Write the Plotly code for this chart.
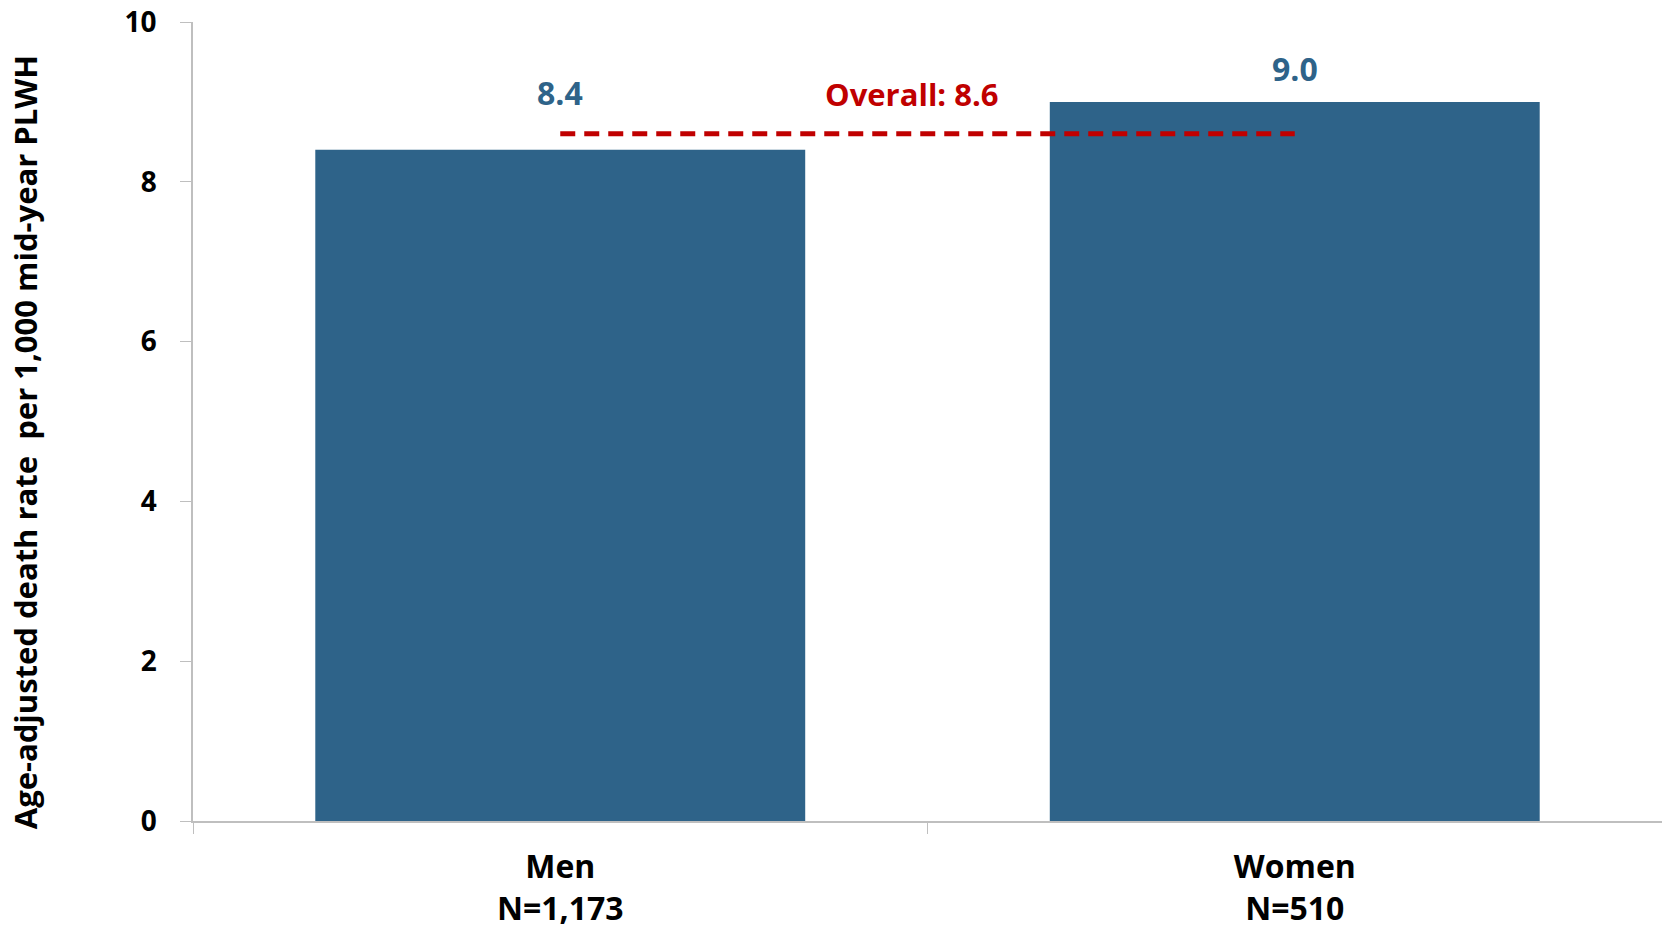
import plotly.graph_objects as go

categories = ["Men", "Women"]
counts = ["N=1,173", "N=510"]
rates = [8.4, 9.0]
overall = 8.6

bar_color = "#2E6389"
red = "#C00000"
font_family = "Open Sans"

tick_text = [f"{c}<br>{n}" for c, n in zip(categories, counts)]

fig = go.Figure()
fig.add_trace(go.Bar(
    x=categories, y=rates, marker_color=bar_color, marker_line_width=0,
    showlegend=False, hoverinfo="skip"))
fig.add_trace(go.Scatter(
    x=categories, y=[overall, overall], mode="lines",
    line=dict(color=red, width=5, dash="15px,9px"),
    showlegend=False, hoverinfo="skip"))

# data labels
label_y = [9.12, 9.42]
for c, v, ly in zip(categories, rates, label_y):
    fig.add_annotation(x=c, y=ly, text=f"{v:.1f}", showarrow=False,
                       font=dict(family=font_family, size=32, color=bar_color, weight="bold"),
                       xanchor="center", yanchor="middle")
fig.add_annotation(x=0.479, y=9.1, text=f"Overall: {overall}", showarrow=False,
                   font=dict(family=font_family, size=31, color=red, weight="bold"),
                   xanchor="center", yanchor="middle")

# y-axis title as rotated annotation
fig.add_annotation(xref="paper", yref="paper", x=-0.1144, y=0.474,
                   text="Age-adjusted death rate  per 1,000 mid-year PLWH",
                   textangle=-90, showarrow=False,
                   font=dict(family=font_family, size=31, color="black", weight="bold"),
                   xanchor="center", yanchor="middle")

fig.update_layout(
    width=1662, height=929,
    margin=dict(l=193, r=0, t=22, b=108, autoexpand=False),
    plot_bgcolor="white", paper_bgcolor="white",
    bargap=0.333,
    font=dict(family=font_family, color="black"),
    xaxis=dict(
        tickmode="array", tickvals=categories, ticktext=tick_text,
        tickfont=dict(size=32, color="black", weight="bold"),
        showline=True, linecolor="#BFBFBF", linewidth=1.5,
        ticks="outside", tickson="boundaries", ticklen=11, tickcolor="#BFBFBF",
        showgrid=False, zeroline=False, ticklabelstandoff=17,
        ticklabeloverflow="allow", automargin=False,
    ),
    yaxis=dict(
        range=[0, 10], tickvals=[0, 2, 4, 6, 8, 10],
        tickfont=dict(size=28, color="black", weight="bold"),
        showline=True, linecolor="#BFBFBF", linewidth=1.5,
        ticks="outside", ticklen=11, tickcolor="#BFBFBF",
        showgrid=False, zeroline=False,
        ticklabelstandoff=18, ticklabeloverflow="allow", automargin=False,
    ),
)

fig.write_html("out.html", config={"displayModeBar": False},
               post_script="document.body.style.margin='0';document.body.style.overflow='hidden';")
